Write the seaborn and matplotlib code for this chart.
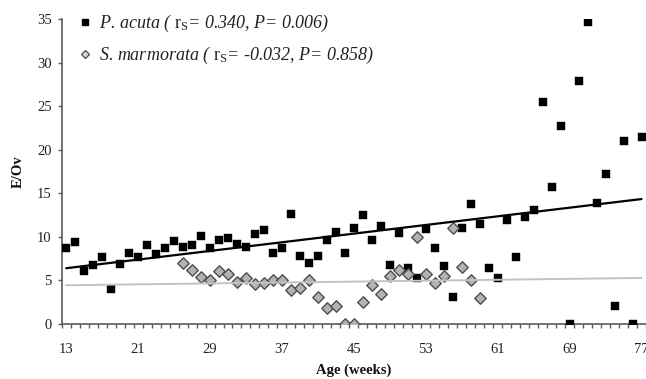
import numpy as np
import pandas as pd
import matplotlib
matplotlib.use("Agg")
import matplotlib.pyplot as plt
import seaborn as sns
from matplotlib.lines import Line2D
from matplotlib.ticker import FixedLocator

# ---------------- data ----------------
weeks_acuta = list(range(13, 78))
eov_acuta = [8.7, 9.4, 6.1, 6.8, 7.7, 4.0, 6.9, 8.2, 7.7, 9.05,
             8.0, 8.7, 9.5, 8.8, 9.05, 10.1, 8.7, 9.6, 9.85, 9.15,
             8.9, 10.35, 10.8, 8.2, 8.7, 12.6, 7.8, 7.05, 7.8, 9.7,
             10.6, 8.2, 11.05, 12.5, 9.65, 11.2, 6.8, 10.5, 6.4, 5.3,
             10.95, 8.7, 6.7, 3.15, 11.05, 13.8, 11.5, 6.4, 5.25, 12.0,
             7.65, 12.3, 13.05, 25.5, 15.7, 22.7, 0.0, 27.9, 34.7, 13.9,
             17.2, 2.05, 21.0, 0.0, 21.5]
weeks_marm = list(range(26, 60))
eov_marm = [7.0, 6.2, 5.35, 5.1, 6.05, 5.7, 4.85, 5.25, 4.65, 4.75,
            5.05, 5.1, 3.85, 4.15, 5.1, 3.1, 1.85, 2.05, 0.0, 0.0,
            2.5, 4.45, 3.45, 5.5, 6.2, 5.7, 9.95, 5.7, 4.75, 5.5,
            11.05, 6.55, 5.05, 3.0]
x_tick_labels = [13, 21, 29, 37, 45, 53, 61, 69, 77]
y_ticks = [0, 5, 10, 15, 20, 25, 30, 35]
label_acuta = "P. acuta ( $\\mathrm{r_S}$= 0.340, P= 0.006)"
label_marm = "S. marmorata ( $\\mathrm{r_S}$= -0.032, P= 0.858)"

df_a = pd.DataFrame({"week": weeks_acuta, "eov": eov_acuta})
df_m = pd.DataFrame({"week": weeks_marm, "eov": eov_marm})

# ---------------- style ----------------
sns.set_theme(style="white")
plt.rcParams["font.family"] = ["Liberation Serif", "DejaVu Serif"]
plt.rcParams["mathtext.fontset"] = "custom"
plt.rcParams["mathtext.rm"] = "Liberation Serif"
plt.rcParams["mathtext.it"] = "Liberation Serif:italic"

W, H = 646, 379
fig = plt.figure(figsize=(W / 100, H / 100), dpi=100)
left_px, right_px, top_px, bot_px = 61.7, 646.0, 19.3, 324.0
ax = fig.add_axes([left_px / W, 1 - bot_px / H, (right_px - left_px) / W,
                   (bot_px - top_px) / H])

sq_color = "black"
dia_face = "#b2b2b2"
dia_edge = "#4d4d4d"

sns.scatterplot(data=df_a, x="week", y="eov", ax=ax, marker="s", s=38,
                color=sq_color, edgecolor=sq_color, linewidth=0.3,
                zorder=3, legend=False)
sns.scatterplot(data=df_m, x="week", y="eov", ax=ax, marker="D", s=34,
                color=dia_face, edgecolor=dia_edge, linewidth=1.0,
                zorder=3, legend=False)

# trend lines over the whole week range
ax.set_xlim(13, 77)
sns.regplot(data=df_a, x="week", y="eov", ax=ax, scatter=False, ci=None,
            truncate=False, line_kws=dict(color="black", lw=1.6, zorder=4))
sns.regplot(data=df_m, x="week", y="eov", ax=ax, scatter=False, ci=None,
            truncate=False, line_kws=dict(color="#c2c2c2", lw=1.4, zorder=4))

ax.set_xlim(12.5, 77.5)
ax.set_ylim(0, 35)

# axes / ticks
axis_col = "#5a5a5a"
for s in ["top", "right"]:
    ax.spines[s].set_visible(False)
for s in ["left", "bottom"]:
    ax.spines[s].set_color(axis_col)
    ax.spines[s].set_linewidth(1.2)

ax.xaxis.set_major_locator(FixedLocator(x_tick_labels))
ax.set_xticklabels([str(v) for v in x_tick_labels])
ax.xaxis.set_minor_locator(FixedLocator(np.arange(12.5, 77.6, 1.0)))
ax.tick_params(axis="x", which="major", length=0, pad=14, labelsize=10.5,
               labelcolor="#222222")
ax.tick_params(axis="x", which="minor", direction="out", length=3.2,
               width=1.0, color=axis_col, bottom=True)
ax.set_yticks(y_ticks)
ax.tick_params(axis="y", which="major", direction="out", length=3.2,
               width=1.0, color=axis_col, pad=4, labelsize=10.5,
               labelcolor="#222222", left=True)

ax.set_xlabel("Age (weeks)", fontsize=10.5, fontweight="bold", labelpad=5,
              color="#111111")
ax.set_ylabel("E/Ov", fontsize=10.5, fontweight="bold", labelpad=9,
              color="#111111")
ax.grid(False)

handles = [
    Line2D([], [], ls="none", marker="s", ms=4.4, mfc="black", mec="black"),
    Line2D([], [], ls="none", marker="D", ms=3.8, mfc="#d9d9d9",
           mec=dia_edge, mew=0.9),
]
leg = ax.legend(handles, [label_acuta, label_marm], loc="upper left",
                bbox_to_anchor=(80 / W, 1 - 13 / H),
                bbox_transform=fig.transFigure, frameon=False,
                prop=dict(family="Liberation Serif", style="italic", size=13),
                handlelength=0.6, handletextpad=0.45, labelspacing=0.62,
                borderpad=0.0, borderaxespad=0.0)
for t in leg.get_texts():
    t.set_color("#222222")

fig.savefig("out.png", dpi=100)
